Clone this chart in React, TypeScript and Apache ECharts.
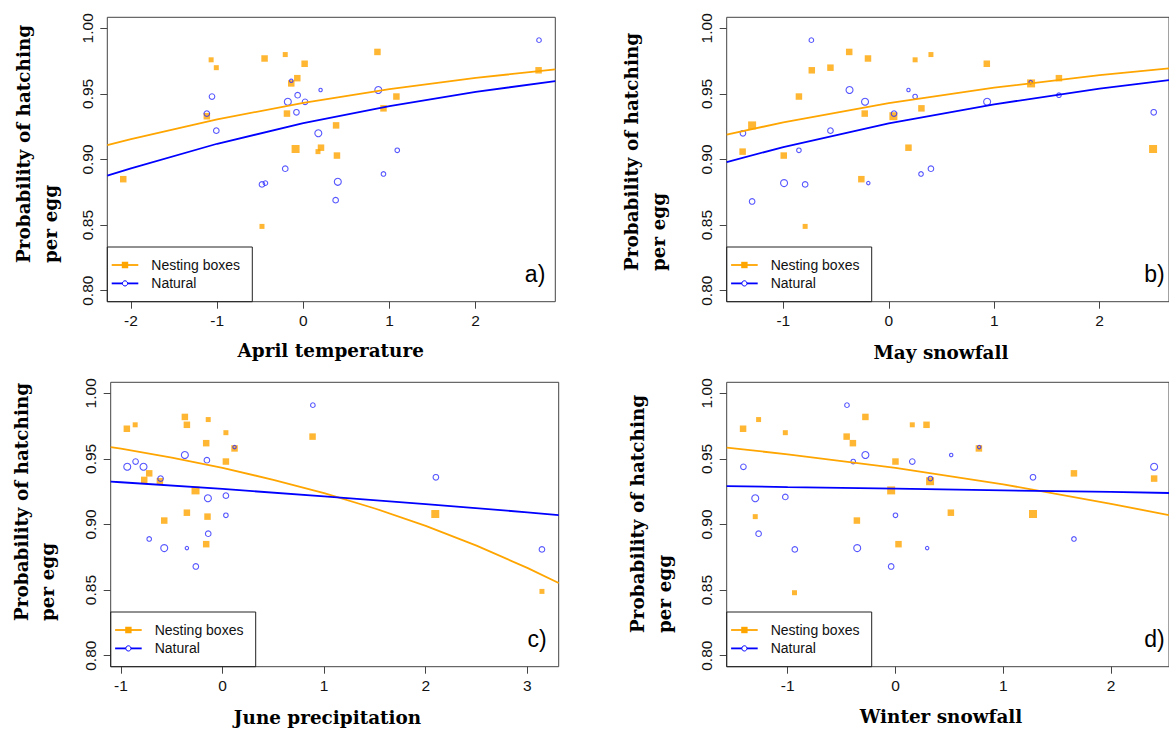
import React, { useEffect, useRef } from "react";
import * as echarts from "echarts";

// ---------- data ----------
const yTicks = [0.8, 0.85, 0.9, 0.95, 1.0];
const yRange = [0.7916, 1.0084];
const panelLabels = ["a)", "b)", "c)", "d)"];
const xTitles = ["April temperature", "May snowfall", "June precipitation", "Winter snowfall"];
const yTitleLine1 = "Probability of hatching";
const yTitleLine2 = "per egg";
const legendNames = ["Nesting boxes", "Natural"];

// [x, probability, relative weight 1-4]
const aprilTicks = [-2, -1, 0, 1, 2];
const aprilRange = [-2.275, 2.924];
const aprilNesting = [
  [-1.07, 0.976, 2], [-1.01, 0.97, 2], [-0.45, 0.977, 3], [-0.21, 0.98, 2], [0.015, 0.973, 3],
  [-0.07, 0.962, 3], [-0.14, 0.958, 3], [0.86, 0.982, 3], [-1.12, 0.933, 3], [-0.19, 0.935, 3],
  [1.08, 0.948, 3], [0.93, 0.939, 3], [0.38, 0.926, 3], [-0.09, 0.908, 4], [0.205, 0.909, 3],
  [0.17, 0.906, 2], [0.39, 0.903, 3], [-2.09, 0.885, 3], [-0.48, 0.849, 2], [2.73, 0.968, 3],
];
const aprilNatural = [
  [2.735, 0.991, 2], [-1.06, 0.948, 3], [-1.12, 0.935, 3], [-1.01, 0.922, 3], [-0.18, 0.944, 4],
  [-0.066, 0.949, 3], [0.02, 0.944, 3], [-0.08, 0.936, 3], [0.2, 0.953, 1], [-0.14, 0.96, 1],
  [0.87, 0.953, 4], [0.174, 0.92, 4], [1.09, 0.907, 2], [-0.21, 0.893, 3], [-0.48, 0.881, 3],
  [-0.44, 0.882, 2], [0.4, 0.883, 4], [0.93, 0.889, 2], [0.375, 0.869, 3],
];
const aprilNestingFit = [[-2.275, 0.911], [-2, 0.9156], [-1, 0.9306], [0, 0.9432], [1, 0.9536], [2, 0.9622], [2.924, 0.9687]];
const aprilNaturalFit = [[-2.275, 0.8877], [-2, 0.8933], [-1, 0.912], [0, 0.9277], [1, 0.9407], [2, 0.9515], [2.924, 0.9598]];

const mayTicks = [-1, 0, 1, 2];
const mayRange = [-1.537, 2.658];
const mayNesting = [
  [-1.296, 0.926, 4], [-1.386, 0.906, 3], [-0.996, 0.903, 3], [-0.852, 0.948, 3], [-0.73, 0.968, 3],
  [-0.553, 0.97, 3], [-0.375, 0.982, 3], [-0.197, 0.977, 3], [0.25, 0.976, 2], [0.4, 0.98, 2],
  [-0.228, 0.935, 3], [0.044, 0.933, 4], [0.31, 0.939, 3], [0.187, 0.909, 3], [-0.26, 0.885, 3],
  [-0.793, 0.849, 2], [0.93, 0.973, 3], [1.35, 0.958, 4], [1.614, 0.962, 3], [2.507, 0.908, 4],
];
const mayNatural = [
  [-0.734, 0.991, 2], [-1.383, 0.92, 3], [-1.296, 0.868, 3], [-0.993, 0.882, 4], [-0.793, 0.881, 3],
  [-0.852, 0.907, 2], [-0.553, 0.922, 3], [-0.372, 0.953, 4], [-0.225, 0.944, 4], [-0.194, 0.882, 1],
  [0.05, 0.935, 3], [0.187, 0.953, 1], [0.25, 0.948, 2], [0.306, 0.889, 2], [0.4, 0.893, 3],
  [0.933, 0.944, 4], [1.346, 0.959, 1], [1.614, 0.949, 2], [2.513, 0.936, 3],
];
const mayNestingFit = [[-1.537, 0.919], [-1, 0.9283], [0, 0.943], [1, 0.9548], [2, 0.9643], [2.658, 0.9695]];
const mayNaturalFit = [[-1.537, 0.898], [-1, 0.9095], [0, 0.9275], [1, 0.9421], [2, 0.954], [2.658, 0.9605]];

const juneTicks = [-1, 0, 1, 2, 3];
const juneRange = [-1.101, 3.309];
const juneNesting = [
  [-0.942, 0.973, 3], [-0.86, 0.976, 2], [-0.371, 0.982, 3], [-0.351, 0.976, 3], [-0.141, 0.98, 2],
  [0.033, 0.97, 2], [-0.161, 0.962, 3], [0.118, 0.958, 3], [0.033, 0.948, 3], [-0.722, 0.939, 3],
  [-0.771, 0.934, 3], [-0.617, 0.933, 3], [-0.266, 0.926, 4], [-0.351, 0.909, 3], [-0.574, 0.903, 3],
  [-0.148, 0.906, 3], [-0.161, 0.885, 3], [0.886, 0.967, 3], [2.094, 0.908, 4], [3.144, 0.849, 2],
];
const juneNatural = [
  [0.889, 0.991, 2], [-0.371, 0.953, 4], [-0.938, 0.944, 4], [-0.856, 0.948, 3], [-0.778, 0.944, 4],
  [-0.154, 0.949, 3], [-0.61, 0.935, 3], [0.118, 0.959, 1], [-0.144, 0.92, 4], [0.033, 0.922, 3],
  [0.033, 0.907, 2], [2.1, 0.936, 3], [-0.722, 0.889, 2], [-0.574, 0.882, 4], [-0.351, 0.882, 1],
  [-0.141, 0.893, 3], [-0.263, 0.868, 3], [3.144, 0.881, 3],
];
const juneNestingFit = [[-1.101, 0.959], [-1, 0.9578], [-0.5, 0.9509], [0, 0.9431], [0.5, 0.9341], [1, 0.9239], [1.5, 0.9122], [2, 0.8989], [2.5, 0.8839], [3, 0.8669], [3.309, 0.8554]];
const juneNaturalFit = [[-1.101, 0.9327], [-1, 0.9322], [0, 0.9271], [1, 0.9215], [2, 0.9156], [3, 0.9093], [3.309, 0.9072]];

const winterTicks = [-1, 0, 1, 2];
const winterRange = [-1.566, 2.538];
const winterNesting = [
  [-1.414, 0.973, 3], [-1.27, 0.98, 2], [-1.022, 0.97, 2], [-1.301, 0.906, 2], [-0.937, 0.848, 2],
  [-0.453, 0.967, 3], [-0.395, 0.962, 3], [-0.279, 0.982, 3], [-0.358, 0.903, 3], [-0.04, 0.926, 4],
  [0.0, 0.948, 3], [0.028, 0.885, 3], [0.156, 0.976, 2], [0.288, 0.976, 3], [0.321, 0.933, 4],
  [0.514, 0.909, 3], [0.774, 0.958, 3], [1.276, 0.908, 4], [1.656, 0.939, 3], [2.4, 0.935, 3],
];
const winterNatural = [
  [-0.45, 0.991, 2], [-1.411, 0.944, 3], [-1.301, 0.92, 4], [-1.27, 0.893, 3], [-1.022, 0.921, 3],
  [-0.934, 0.881, 3], [-0.392, 0.948, 2], [-0.279, 0.953, 4], [-0.355, 0.882, 4], [0.0, 0.907, 2],
  [-0.04, 0.868, 3], [0.156, 0.948, 3], [0.324, 0.935, 2], [0.294, 0.882, 1], [0.517, 0.953, 1],
  [0.777, 0.959, 1], [1.276, 0.936, 3], [1.656, 0.889, 2], [2.4, 0.944, 4],
];
const winterNestingFit = [[-1.566, 0.9586], [-1, 0.9535], [0, 0.9431], [1, 0.9306], [2, 0.9157], [2.538, 0.9072]];
const winterNaturalFit = [[-1.566, 0.9293], [-1, 0.9285], [0, 0.9273], [1, 0.926], [2, 0.9248], [2.538, 0.924]];

// ---------- layout / style ----------
const ORANGE = "#ffa500";
const BLUE = "#0000ff";
const SQUARE_SIZE: Record<number, number> = { 1: 4, 2: 5, 3: 6.5, 4: 8 };
const CIRCLE_SIZE: Record<number, number> = { 1: 3.4, 2: 4.6, 3: 5.6, 4: 7 };
const SANS = '"Liberation Sans", Arial, sans-serif';
const SERIF = '"DejaVu Serif", serif';
const TITLE_FONT = `bold 18.4px ${SERIF}`;

const panels = [
  { left: 107.3, top: 17.3, width: 448, height: 284.4, ticks: aprilTicks, range: aprilRange, nest: aprilNesting, nat: aprilNatural, nestFit: aprilNestingFit, natFit: aprilNaturalFit,
    yt: [23, 263], yt2: [50, 263], xt: [330.7, 350] },
  { left: 726.7, top: 17.3, width: 448, height: 284.4, ticks: mayTicks, range: mayRange, nest: mayNesting, nat: mayNatural, nestFit: mayNestingFit, natFit: mayNaturalFit,
    yt: [631.7, 271], yt2: [658.3, 271], xt: [941, 352] },
  { left: 110.7, top: 382.3, width: 448, height: 284.4, ticks: juneTicks, range: juneRange, nest: juneNesting, nat: juneNatural, nestFit: juneNestingFit, natFit: juneNaturalFit,
    yt: [21.7, 621], yt2: [47.7, 621], xt: [327.5, 717] },
  { left: 726.7, top: 382.3, width: 447, height: 284.4, ticks: winterTicks, range: winterRange, nest: winterNesting, nat: winterNatural, nestFit: winterNestingFit, natFit: winterNaturalFit,
    yt: [637.3, 633], yt2: [664, 633], xt: [941, 716] },
];

function buildOption() {
  const grid: any[] = [];
  const xAxis: any[] = [];
  const yAxis: any[] = [];
  const series: any[] = [];
  const graphic: any[] = [];

  panels.forEach((p, i) => {
    grid.push({ left: p.left, top: p.top, width: p.width, height: p.height, show: true, borderColor: "#444", borderWidth: 1, backgroundColor: "transparent" });
    xAxis.push({
      type: "value", gridIndex: i, min: p.range[0], max: p.range[1], position: "bottom",
      axisLine: { show: false, onZero: false },
      axisTick: { show: true, customValues: p.ticks, length: 7, lineStyle: { color: "#444", width: 1 } },
      axisLabel: { customValues: p.ticks, fontFamily: SANS, fontSize: 15.5, color: "#111", margin: 11 },
      splitLine: { show: false },
    });
    yAxis.push({
      type: "value", gridIndex: i, min: yRange[0], max: yRange[1], position: "left",
      axisLine: { show: false, onZero: false },
      axisTick: { show: true, customValues: yTicks, length: 7, lineStyle: { color: "#444", width: 1 } },
      axisLabel: { customValues: yTicks, rotate: 90, fontFamily: SANS, fontSize: 15.5, color: "#111", margin: 12, formatter: (v: number) => v.toFixed(2) },
      splitLine: { show: false },
    });
    series.push({
      type: "scatter", name: legendNames[0], xAxisIndex: i, yAxisIndex: i, symbol: "rect",
      symbolSize: (v: number[]) => SQUARE_SIZE[v[2]],
      itemStyle: { color: ORANGE }, data: p.nest, z: 2,
    });
    series.push({
      type: "scatter", name: legendNames[1], xAxisIndex: i, yAxisIndex: i, symbol: "circle",
      symbolSize: (v: number[]) => CIRCLE_SIZE[v[2]],
      itemStyle: { color: "rgba(0,0,0,0)", borderColor: "#2a2aff", borderWidth: 1.1 }, data: p.nat, z: 2,
    });
    series.push({
      type: "line", name: legendNames[0], xAxisIndex: i, yAxisIndex: i, showSymbol: false, smooth: false,
      lineStyle: { color: ORANGE, width: 1.8 }, data: p.nestFit, z: 3,
    });
    series.push({
      type: "line", name: legendNames[1], xAxisIndex: i, yAxisIndex: i, showSymbol: false, smooth: false,
      lineStyle: { color: BLUE, width: 1.8 }, data: p.natFit, z: 3,
    });

    const bottom = p.top + p.height;
    const lx = p.left;
    const ly = bottom - 54.7;
    // legend box
    graphic.push({ type: "rect", shape: { x: lx, y: ly, width: 145, height: 54.7 }, style: { fill: "none", stroke: "#222", lineWidth: 1 }, z: 10 });
    graphic.push({ type: "line", shape: { x1: lx + 4.4, y1: ly + 18, x2: lx + 31, y2: ly + 18 }, style: { stroke: ORANGE, lineWidth: 1.8 }, z: 10 });
    graphic.push({ type: "rect", shape: { x: lx + 17.7 - 3.2, y: ly + 18 - 3.2, width: 6.4, height: 6.4 }, style: { fill: ORANGE }, z: 11 });
    graphic.push({ type: "line", shape: { x1: lx + 4.4, y1: ly + 36.4, x2: lx + 31, y2: ly + 36.4 }, style: { stroke: BLUE, lineWidth: 1.8 }, z: 10 });
    graphic.push({ type: "circle", shape: { cx: lx + 17.7, cy: ly + 36.4, r: 2.6 }, style: { fill: "#fff", stroke: BLUE, lineWidth: 1 }, z: 11 });
    graphic.push({ type: "text", x: lx + 44, y: ly + 18, z: 11, style: { text: legendNames[0], font: `14px ${SANS}`, fill: "#111", align: "left", verticalAlign: "middle", textAlign: "left", textVerticalAlign: "middle" } });
    graphic.push({ type: "text", x: lx + 44, y: ly + 36.4, z: 11, style: { text: legendNames[1], font: `14px ${SANS}`, fill: "#111", align: "left", verticalAlign: "middle", textAlign: "left", textVerticalAlign: "middle" } });
    // panel label
    graphic.push({ type: "text", x: p.left + 438 - (i === 2 ? 2 : 0), y: bottom - 27.5, z: 11, style: { text: panelLabels[i], font: `23px ${SANS}`, fill: "#000", align: "right", verticalAlign: "middle", textAlign: "right", textVerticalAlign: "middle" } });
    // axis titles
    graphic.push({ type: "text", x: p.xt[0], y: p.xt[1], z: 11, style: { text: xTitles[i], font: TITLE_FONT, fill: "#000", align: "center", verticalAlign: "middle", textAlign: "center", textVerticalAlign: "middle" } });
    graphic.push({ type: "text", x: p.yt[0], y: p.yt[1], rotation: Math.PI / 2, z: 11, style: { text: yTitleLine1, font: TITLE_FONT, fill: "#000", align: "left", verticalAlign: "middle", textAlign: "left", textVerticalAlign: "middle" } });
    graphic.push({ type: "text", x: p.yt2[0], y: p.yt2[1], rotation: Math.PI / 2, z: 11, style: { text: yTitleLine2, font: TITLE_FONT, fill: "#000", align: "left", verticalAlign: "middle", textAlign: "left", textVerticalAlign: "middle" } });
  });

  return { animation: false, backgroundColor: "#fff", grid, xAxis, yAxis, series, graphic };
}

export default function App() {
  const ref = useRef<HTMLDivElement>(null);
  useEffect(() => {
    if (!ref.current) return;
    const chart = echarts.init(ref.current, undefined, { renderer: "svg" });
    chart.setOption(buildOption() as any);
    return () => chart.dispose();
  }, []);
  return <div ref={ref} style={{ position: "absolute", left: 0, top: 0, width: 1169, height: 731, overflow: "hidden", background: "#fff" }} />;
}
